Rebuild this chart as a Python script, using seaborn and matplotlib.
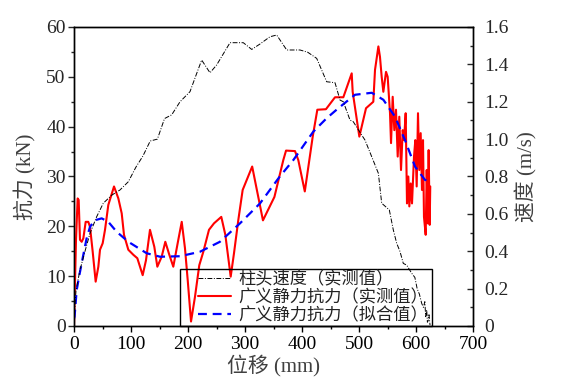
import numpy as np
import pandas as pd
import matplotlib
matplotlib.use("Agg")
import matplotlib.pyplot as plt
import seaborn as sns
from matplotlib.ticker import MultipleLocator, FuncFormatter
from matplotlib.legend_handler import HandlerLine2D

# ---------------- data ----------------
red_x = [0, 3.5, 6.4, 8.2, 10.5, 13.5, 16.4, 20.5, 25.1, 28.1, 32.8, 38.0, 42.7, 45.6, 50.3,
         54.4, 60.2, 70.2, 77.8, 83.7, 87.7, 95.3, 104.0, 111.1, 120.5, 126.3, 133.3, 140.9,
         146.2, 153.8, 160.2, 167.2, 174.2, 183.0, 189.0, 194.7, 199.5, 205.3, 212.3, 219.8,
         226.9, 236.8, 245.6, 258.4, 265.5, 274.9, 280.7, 288.3, 295.9, 312.6, 331.5, 351.6,
         367.2, 372.0, 387.7, 393.5, 404.9, 418.8, 426.9, 442.0, 457.9, 472.5, 487.2, 488.9,
         500.6, 512.3, 525.1, 528.1, 534.0, 536.8, 539.8, 542.7, 547.4, 550.3, 554.4, 556.2,
         559.1, 562.0, 564.9, 567.9, 570.7, 573.7, 576.7, 579.0, 581.9, 584.2, 586.5, 588.3,
         590.7, 593.0, 596.5, 598.8, 601.2, 603.5, 605.8, 608.2, 610.5, 612.3, 614.0, 617.0,
         618.8, 620.5, 622.2, 624.0, 625.0]
red_y = [0, 17.3, 25.6, 25.3, 17.3, 16.9, 17.6, 20.9, 20.9, 19.9, 14.9, 8.9, 11.9, 15.3, 16.6,
         19.3, 24.3, 28.0, 25.6, 22.6, 18.3, 15.3, 14.3, 13.6, 10.2, 13.2, 19.3, 15.9,
         11.9, 13.9, 16.9, 14.3, 11.9, 17.3, 20.9, 15.6, 9.2, 0.9, 5.9, 12.2,
         14.9, 19.3, 20.6, 21.9, 18.3, 9.9, 14.6, 21.3, 27.3, 32.0, 21.2, 25.9,
         33.3, 35.2, 35.1, 33.3, 27.0, 38.0, 43.4, 43.5, 45.9, 45.9, 50.7, 47.0,
         38.0, 43.7, 45.0, 51.4, 56.1, 54.0, 50.0, 47.0, 51.0, 50.0, 42.7, 36.7,
         46.0, 39.3, 43.4, 34.0, 42.0, 31.3, 39.3, 37.3, 42.7, 24.6, 30.0, 24.0,
         28.6, 24.6, 34.0, 37.3, 28.0, 42.7, 31.3, 38.7, 27.3, 37.3, 21.9, 18.3,
         31.3, 20.6, 35.3, 20.3, 28.0]

fit_x = [0, 1.0, 4.7, 9.4, 15.2, 22.0, 28.1, 36.0, 48.6, 60.2, 74.9, 95.3, 127.5, 150.9, 186.0,
         221.0, 256.0, 291.2, 326.3, 359.7, 384.8, 419.8, 443.3, 463.7, 493.0, 522.3, 542.7,
         563.2, 580.7, 598.3, 615.8, 624.6]
fit_y = [1.5, 1.9, 7.2, 10.2, 13.6, 17.5, 19.9, 21.2, 21.6, 20.9, 18.9, 16.9, 14.6, 13.9, 14.0,
         14.9, 16.9, 20.6, 24.6, 29.8, 33.3, 39.0, 41.7, 43.7, 46.4, 46.8, 45.4,
         42.0, 37.3, 32.0, 29.3, 29.2]

vel_x = [0, 1.5, 3.5, 10.5, 19.3, 28.1, 39.8, 51.4, 66.1, 80.7, 95.3, 108.6, 121.0, 133.7,
         146.3, 158.8, 171.4, 186.0, 203.5, 215.3, 224.0, 238.6, 250.3, 273.7, 297.0, 311.8,
         326.3, 343.9, 355.6, 373.2, 396.5, 410.0, 425.8, 443.3, 457.9, 466.7, 472.5, 484.2,
         490.0, 504.7, 510.5, 522.3, 534.0, 539.8, 553.2, 560.2, 566.1, 572.0, 577.7, 583.6,
         592.5, 598.0, 602.0, 606.0, 610.0, 613.0, 615.5, 617.0, 618.8, 620.0, 621.7, 622.8,
         624.6]
vel_y = [0.02, 0.10, 0.19, 0.30, 0.40, 0.496, 0.585, 0.657, 0.70, 0.728, 0.772, 0.85, 0.91, 0.99,
         1.00, 1.11, 1.13, 1.20, 1.254, 1.352, 1.423, 1.355, 1.397, 1.516, 1.516, 1.48,
         1.509, 1.548, 1.557, 1.477, 1.477, 1.465, 1.432, 1.307, 1.302, 1.209, 1.20, 1.102,
         1.093, 1.022, 0.995, 0.906, 0.817, 0.657, 0.621, 0.514, 0.443, 0.398, 0.335, 0.326,
         0.282, 0.26, 0.20, 0.17, 0.121, 0.10, 0.13, 0.05, 0.086, 0.02, 0.032, 0.06,
         0.005]

labels = ["柱头速度（实测值）", "广义静力抗力（实测值）", "广义静力抗力（拟合值）"]
xlabel = "位移 (mm)"
ylabel_left = "抗力 (kN)"
ylabel_right = "速度 (m/s)"

# ---------------- style ----------------
sns.set_style("ticks")
plt.rcParams["font.family"] = ["Liberation Serif", "Noto Sans CJK SC"]
plt.rcParams["axes.linewidth"] = 1.0

fig = plt.figure(figsize=(5.64, 3.89), dpi=100)
ax = fig.add_axes([74 / 564, 1 - 326 / 389, 399 / 564, 299 / 389])
ax2 = ax.twinx()

df_red = pd.DataFrame({"x": red_x, "y": red_y})
df_fit = pd.DataFrame({"x": fit_x, "y": fit_y})
df_vel = pd.DataFrame({"x": vel_x, "y": vel_y})

sns.lineplot(data=df_red, x="x", y="y", ax=ax, estimator=None, sort=False,
             color="#ff0000", linewidth=1.5, zorder=3)
sns.lineplot(data=df_fit, x="x", y="y", ax=ax, estimator=None, sort=False,
             color="#0000ff", linewidth=1.6, zorder=4)
l_fit = ax.lines[-1]
l_fit.set_dashes((4, 2.6))
sns.lineplot(data=df_vel, x="x", y="y", ax=ax2, estimator=None, sort=False,
             color="black", linewidth=0.7, zorder=2)
l_vel = ax2.lines[-1]
l_vel.set_dashes((5, 1.6, 1, 1.6))
l_red = ax.lines[0]

# ---------------- axes ----------------
ax.set_xlim(0, 700)
ax.set_ylim(0, 60)
ax2.set_ylim(0, 1.6)

ax.xaxis.set_major_locator(MultipleLocator(100))
ax.xaxis.set_minor_locator(MultipleLocator(50))
ax.yaxis.set_major_locator(MultipleLocator(10))
ax.yaxis.set_minor_locator(MultipleLocator(5))
ax2.yaxis.set_major_locator(MultipleLocator(0.2))
ax2.yaxis.set_minor_locator(MultipleLocator(0.1))
ax2.yaxis.set_major_formatter(FuncFormatter(lambda v, p: "0" if abs(v) < 1e-9 else f"{v:.1f}"))

tick_font = 14
ax.tick_params(axis="x", which="both", direction="out", bottom=True, top=False,
               labelsize=tick_font, pad=3, colors="black")
ax.tick_params(axis="y", which="both", direction="out", left=True, right=False,
               labelsize=tick_font, pad=2)
ax.tick_params(which="major", length=4, width=1.0)
ax.tick_params(which="minor", length=2.5, width=1.0)
ax2.tick_params(axis="y", which="both", direction="in", right=True, left=False,
                labelsize=tick_font, pad=8)
ax2.xaxis.set_ticks_position("top")
ax2.tick_params(axis="x", which="both", direction="in", top=True, bottom=False,
                labeltop=False, labelbottom=False)
ax2.tick_params(which="major", length=4, width=1.0)
ax2.tick_params(which="minor", length=2.5, width=1.0)

for a in (ax, ax2):
    for s in a.spines.values():
        s.set_visible(True)
        s.set_linewidth(1.0)
        s.set_color("black")

lab_color = "#404040"
ax.set_xlabel(xlabel, fontsize=15, color=lab_color)
ax.set_ylabel(ylabel_left, fontsize=15, color=lab_color)
ax2.set_ylabel(ylabel_right, fontsize=15, color=lab_color)
ax.xaxis.set_label_coords(0.5, -0.095)
ax.yaxis.set_label_coords(-0.095, 0.5)
ax2.yaxis.set_label_coords(1.105, 0.5)

# ---------------- legend ----------------
hmap = {l_vel: HandlerLine2D(xpad=0.95), l_red: HandlerLine2D(xpad=0.95),
        l_fit: HandlerLine2D(xpad=0.95)}
leg = ax2.legend([l_vel, l_red, l_fit], labels, handler_map=hmap,
                 loc="lower left", bbox_to_anchor=(0.266, 0.0, 0.631, 0.181),
                 mode="expand", frameon=True, fancybox=False,
                 handlelength=2.85, handletextpad=0.45,
                 labelspacing=0.0, borderpad=0.1, borderaxespad=0,
                 prop={"family": ["Noto Sans CJK SC"], "size": 12.4})
frame = leg.get_frame()
frame.set_facecolor("none")
frame.set_edgecolor("black")
frame.set_alpha(None)
frame.set_linewidth(1.0)
for t in leg.get_texts():
    t.set_color("#222222")

fig.savefig("out.png", dpi=100)
